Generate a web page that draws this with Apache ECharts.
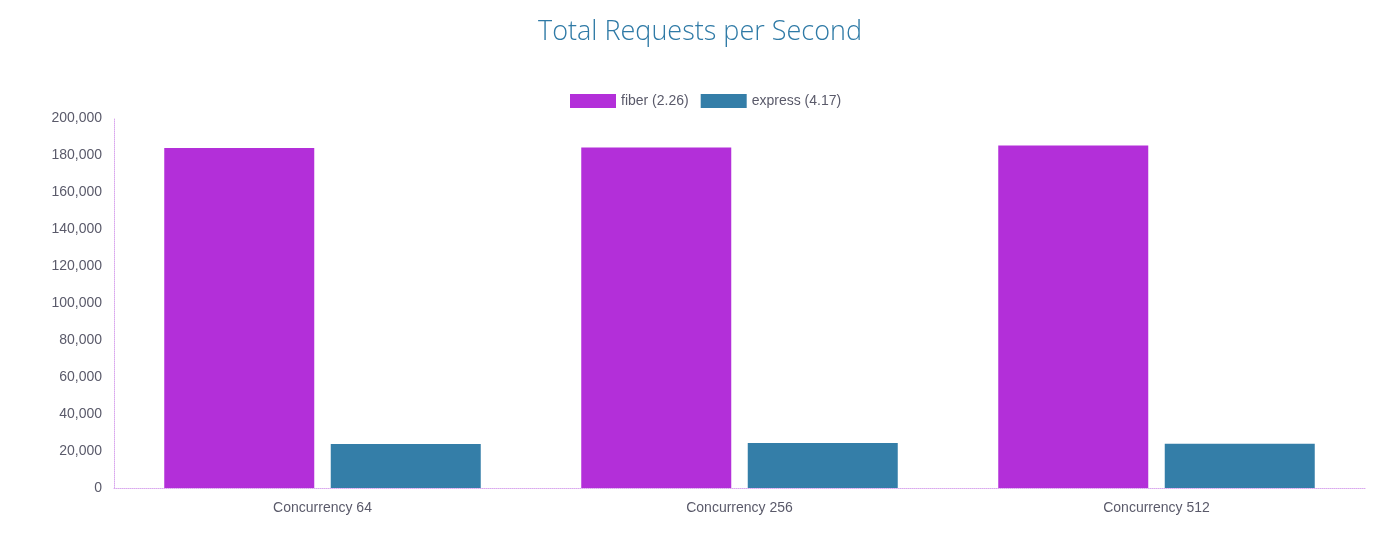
<!DOCTYPE html>
<html>
<head>
<meta charset="utf-8">
<script src="https://cdn.jsdelivr.net/npm/echarts@6/dist/echarts.min.js"></script>
<style>
  html, body { margin: 0; padding: 0; background: #fff; }
  #chart { width: 1400px; height: 539px; }
</style>
</head>
<body>
<div id="chart"></div>
<script>
var categories = ['Concurrency 64', 'Concurrency 256', 'Concurrency 512'];
var fiberName = 'fiber (2.26)';
var expressName = 'express (4.17)';
var fiberValues = [183800, 184100, 185100];
var expressValues = [23800, 24300, 23900];

var axisLineStyle = { color: '#d9a8ee', type: 'dotted', width: 1 };
var labelFont = 'Liberation Sans';

var option = {
    backgroundColor: '#fff',
    title: {
        text: 'Total Requests per Second',
        left: 'center',
        top: 14,
        textStyle: {
            color: '#2f7aa6',
            fontFamily: 'Open Sans',
            fontWeight: 300,
            fontSize: 27
        }
    },
    legend: {
        data: [fiberName, expressName],
        icon: 'rect',
        top: 89,
        left: 565,
        itemWidth: 46,
        itemHeight: 14,
        itemGap: 12,
        textStyle: { color: '#5a5a6a', fontFamily: labelFont, fontSize: 14 }
    },
    grid: { left: 114, right: 35, top: 118, bottom: 51 },
    xAxis: {
        type: 'category',
        data: categories,
        axisLine: { lineStyle: axisLineStyle },
        axisTick: { show: false },
        axisLabel: { color: '#5a5a6a', fontFamily: labelFont, fontSize: 14, margin: 13 }
    },
    yAxis: {
        type: 'value',
        min: 0,
        max: 200000,
        interval: 20000,
        axisLine: { show: true, lineStyle: axisLineStyle },
        axisTick: { show: false },
        splitLine: { show: false },
        axisLabel: {
            color: '#5a5a6a', fontFamily: labelFont, fontSize: 14, margin: 12,
            formatter: function (v) { return v.toLocaleString('en-US'); }
        }
    },
    series: [
        {
            name: fiberName,
            type: 'bar',
            data: fiberValues,
            barWidth: 150,
            barGap: '11%',
            itemStyle: { color: '#b32fd9' }
        },
        {
            name: expressName,
            type: 'bar',
            data: expressValues,
            barWidth: 150,
            itemStyle: { color: '#347ea8' }
        }
    ]
};
var chart = echarts.init(document.getElementById('chart'));
chart.setOption(option, true);
</script>
</body>
</html>
